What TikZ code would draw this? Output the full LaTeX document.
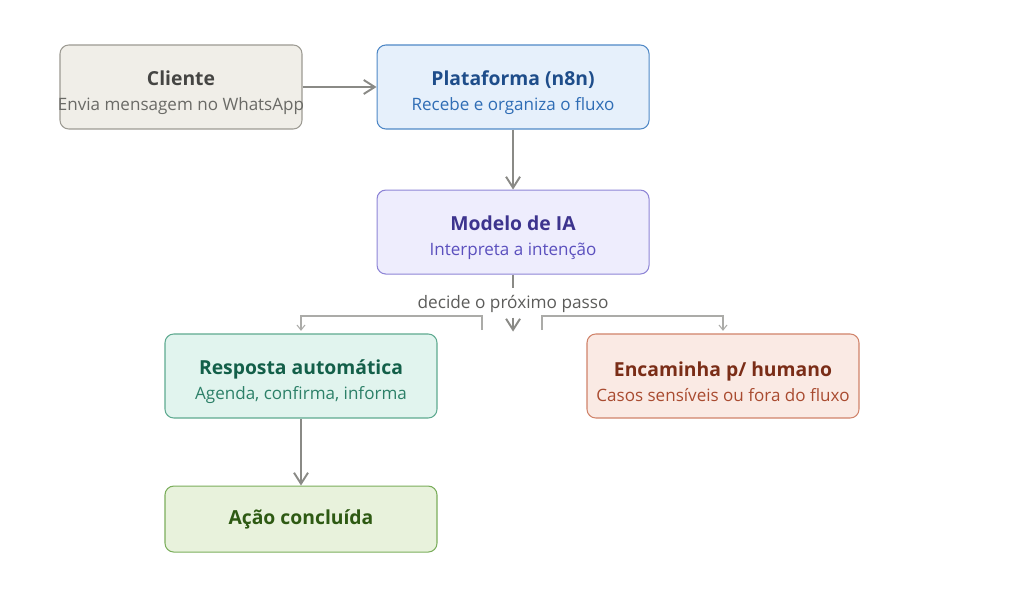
\documentclass[tikz,border=0pt]{standalone}
\usepackage{fontspec}
\setmainfont{Open Sans}
\usetikzlibrary{arrows.meta,positioning,calc}
\definecolor{ink}{HTML}{8A8A86}
\definecolor{thin}{HTML}{ABABA8}
\definecolor{muted}{HTML}{5C5C5A}
\definecolor{sand}{HTML}{F0EEE8}
\definecolor{sandedge}{HTML}{9C9A92}
\definecolor{sandtitle}{HTML}{454543}
\definecolor{sandtext}{HTML}{6A6A66}
\definecolor{blue}{HTML}{E6F0FB}
\definecolor{blueedge}{HTML}{4F88C6}
\definecolor{bluetitle}{HTML}{1E4D8A}
\definecolor{bluetext}{HTML}{2F6DB5}
\definecolor{violet}{HTML}{EEEDFD}
\definecolor{violetedge}{HTML}{8E85D6}
\definecolor{violettitle}{HTML}{3D348E}
\definecolor{violettext}{HTML}{5B50BE}
\definecolor{mint}{HTML}{E1F4EE}
\definecolor{mintedge}{HTML}{5EAA90}
\definecolor{minttitle}{HTML}{135F49}
\definecolor{minttext}{HTML}{2C8068}
\definecolor{salmon}{HTML}{FAEAE4}
\definecolor{salmonedge}{HTML}{D0836A}
\definecolor{salmontitle}{HTML}{7A2D17}
\definecolor{salmontext}{HTML}{A94B30}
\definecolor{leaf}{HTML}{E8F2DC}
\definecolor{leafedge}{HTML}{7BAE5C}
\definecolor{leaftitle}{HTML}{2E5A13}
\newcommand{\cardhead}{\rule{0pt}{15pt}\fontsize{11}{14.2}\selectfont\bfseries}

\begin{document}
\begin{tikzpicture}[
  flow/.style={-{Straight Barb[length=2.2mm,width=2.8mm]}, draw=ink, line width=1.1pt},
  link/.style={draw=ink, line width=1.1pt},
  branch/.style={-{Straight Barb[length=1mm,width=1.6mm]}, draw=thin, line width=.6pt},
  card/.style={rounded corners=5pt, line width=.6pt, minimum width=54.4mm,
               minimum height=16.8mm, align=center, inner sep=2pt,
               font=\fontsize{9.7}{14.2}\selectfont},
  note/.style={font=\fontsize{9.8}{12}\selectfont, text=muted}
]
\useasboundingbox (0,0) rectangle (20.48,-12.04);

% Entrada e plataforma
\node[card, fill=sand, draw=sandedge, minimum width=48.4mm] (cliente) at (3.62,-1.74)
  {{\color{sandtitle}\cardhead Cliente}\\\color{sandtext}\makebox[0pt]{Envia mensagem no WhatsApp}};
\node[card, fill=blue, draw=blueedge, right=14.8mm of cliente] (plataforma)
  {{\color{bluetitle}\cardhead Plataforma (n8n)}\\\color{bluetext}Recebe e organiza o fluxo};
\draw[flow] (cliente) -- (plataforma);

% Modelo
\node[card, fill=violet, draw=violetedge, below=12mm of plataforma] (modelo)
  {{\color{violettitle}\cardhead Modelo de IA}\\\color{violettext}Interpreta a intenção};
\draw[flow] (plataforma) -- (modelo);

\node[note] (decide) at ($(modelo.south)+(0,-0.58)$) {decide o próximo passo};
\draw[link] (modelo.south) -- ++(0,-0.26);
\coordinate (pick) at ($(modelo.south)+(0,-1.14)$);
\draw[flow] ($(modelo.south)+(0,-0.86)$) -- (pick);

% Ramos
\node[card, fill=mint, draw=mintedge] (resposta) at (6.02,-7.52)
  {{\color{minttitle}\cardhead Resposta automática}\\\color{minttext}Agenda, confirma, informa};
\node[card, fill=salmon, draw=salmonedge] (humano) at (14.46,-7.52)
  {{\color{salmontitle}\cardhead Encaminha p/ humano}\\\color{salmontext}Casos sensíveis ou fora do fluxo};

\coordinate (lstub) at (9.64,-6.6);
\coordinate (rstub) at (10.84,-6.6);
\draw[branch, shorten >=1.5pt] (lstub) |- ($(lstub)+(-1,0.28)$) -| (resposta.north);
\draw[branch, shorten >=1.5pt] (rstub) |- ($(rstub)+(1,0.28)$) -| (humano.north);

% Fim
\node[card, fill=leaf, draw=leafedge, minimum height=13.2mm, below=13.4mm of resposta] (acao)
  {\color{leaftitle}\fontsize{11}{14.2}\selectfont\bfseries Ação concluída};
\draw[flow] (resposta) -- (acao);

\end{tikzpicture}
\end{document}
